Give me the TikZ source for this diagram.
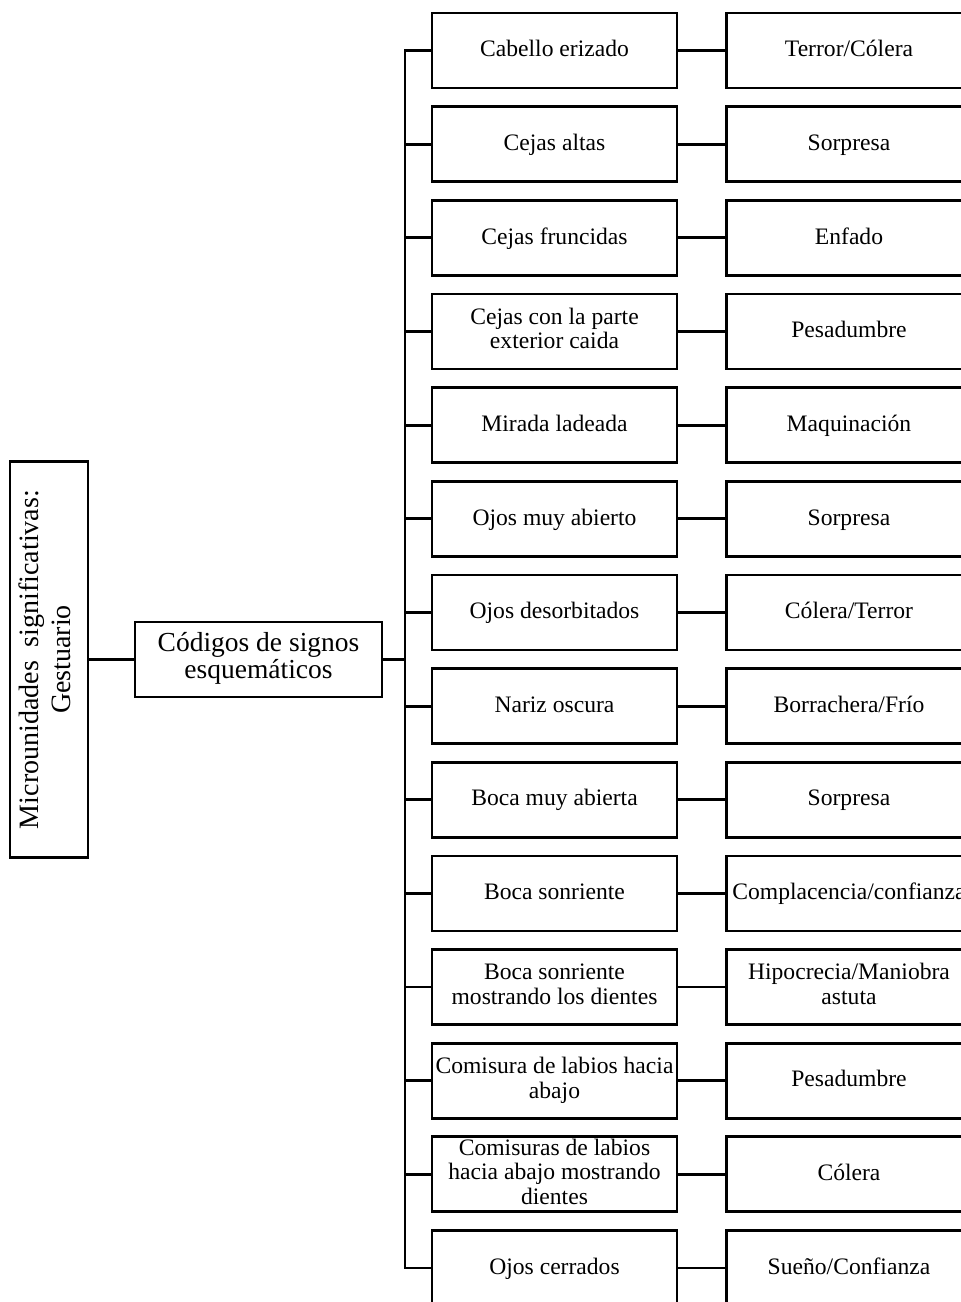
\documentclass[tikz,border=0pt]{standalone}
\usepackage{fontspec}
\setmainfont{Liberation Serif}
% line strut for the small boxes: fixed height and depth per line
\newcommand\rowstrut{\rule[-6pt]{0pt}{24.5pt}}
\begin{document}
\begin{tikzpicture}[x=1pt,y=-1pt,
  frame/.style={draw, line width=2.8pt, rectangle, inner sep=0pt, align=center,
    execute at begin node=\strut, execute at end node=\strut},
  box/.style={draw, line width=2.8pt, rectangle, inner sep=0pt, align=center,
    minimum width=245pt, minimum height=75pt,
    font=\fontsize{23.6}{24.5}\selectfont,
    execute at begin node=\rowstrut, execute at end node=\rowstrut},
  link/.style={line width=2.8pt}]
\useasboundingbox (0,0) rectangle (961,1302);
\clip (0,0) rectangle (961,1302);

% root and second level
\node[frame, rotate=90, minimum width=396pt, minimum height=78pt,
  font=\fontsize{28}{32}\selectfont] (micro) at (49,659.5)
  {Microunidades\ \ significativas:\\Gestuario};
\node[frame, minimum width=247pt, minimum height=75pt,
  font=\fontsize{27.5}{27.5}\selectfont] (cod) at (258.5,659.5)
  {Códigos de signos\\esquemáticos};
\coordinate (tr) at (405,659.5);

% gestures (left column)
\node[box] (g1)  at (554.5,50.5)   {Cabello erizado};
\node[box] (g2)  at (554.5,144.2)  {Cejas altas};
\node[box] (g3)  at (554.5,237.8)  {Cejas fruncidas};
\node[box] (g4)  at (554.5,331.5)  {Cejas con la parte\\exterior caida};
\node[box] (g5)  at (554.5,425.1)  {Mirada ladeada};
\node[box] (g6)  at (554.5,518.8)  {Ojos muy abierto};
\node[box] (g7)  at (554.5,612.4)  {Ojos desorbitados};
\node[box] (g8)  at (554.5,706.1)  {Nariz oscura};
\node[box] (g9)  at (554.5,799.7)  {Boca muy abierta};
\node[box] (g10) at (554.5,893.4)  {Boca sonriente};
\node[box] (g11) at (554.5,987.0)  {Boca sonriente\\mostrando los dientes};
\node[box] (g12) at (554.5,1080.7) {Comisura de labios hacia\\abajo};
\node[box] (g13) at (554.5,1174.3) {Comisuras de labios\\hacia abajo mostrando\\dientes};
\node[box] (g14) at (554.5,1268.0) {Ojos cerrados};

% meanings (right column)
\node[box] (m1)  at (849,50.5)   {Terror/Cólera};
\node[box] (m2)  at (849,144.2)  {Sorpresa};
\node[box] (m3)  at (849,237.8)  {Enfado};
\node[box] (m4)  at (849,331.5)  {Pesadumbre};
\node[box] (m5)  at (849,425.1)  {Maquinación};
\node[box] (m6)  at (849,518.8)  {Sorpresa};
\node[box] (m7)  at (849,612.4)  {Cólera/Terror};
\node[box] (m8)  at (849,706.1)  {Borrachera/Frío};
\node[box] (m9)  at (849,799.7)  {Sorpresa};
\node[box] (m10) at (849,893.4)  {Complacencia/confianza};
\node[box] (m11) at (849,987.0)  {Hipocrecia/Maniobra\\astuta};
\node[box] (m12) at (849,1080.7) {Pesadumbre};
\node[box] (m13) at (849,1174.3) {Cólera};
\node[box] (m14) at (849,1268.0) {Sueño/Confianza};

% connectors
\draw[link] (micro.south) -- (cod.west);
\draw[link, line width=3.4pt] (cod.east) -- (tr);
\draw[link] (g1.west) -| (tr) |- (g14.west);
\foreach \k in {2,...,13}
  \draw[link] (g\k.west) -- (g\k.west -| tr);
\foreach \k in {1,...,14}
  \draw[link] (g\k.east) -- (m\k.west);
\end{tikzpicture}
\end{document}
